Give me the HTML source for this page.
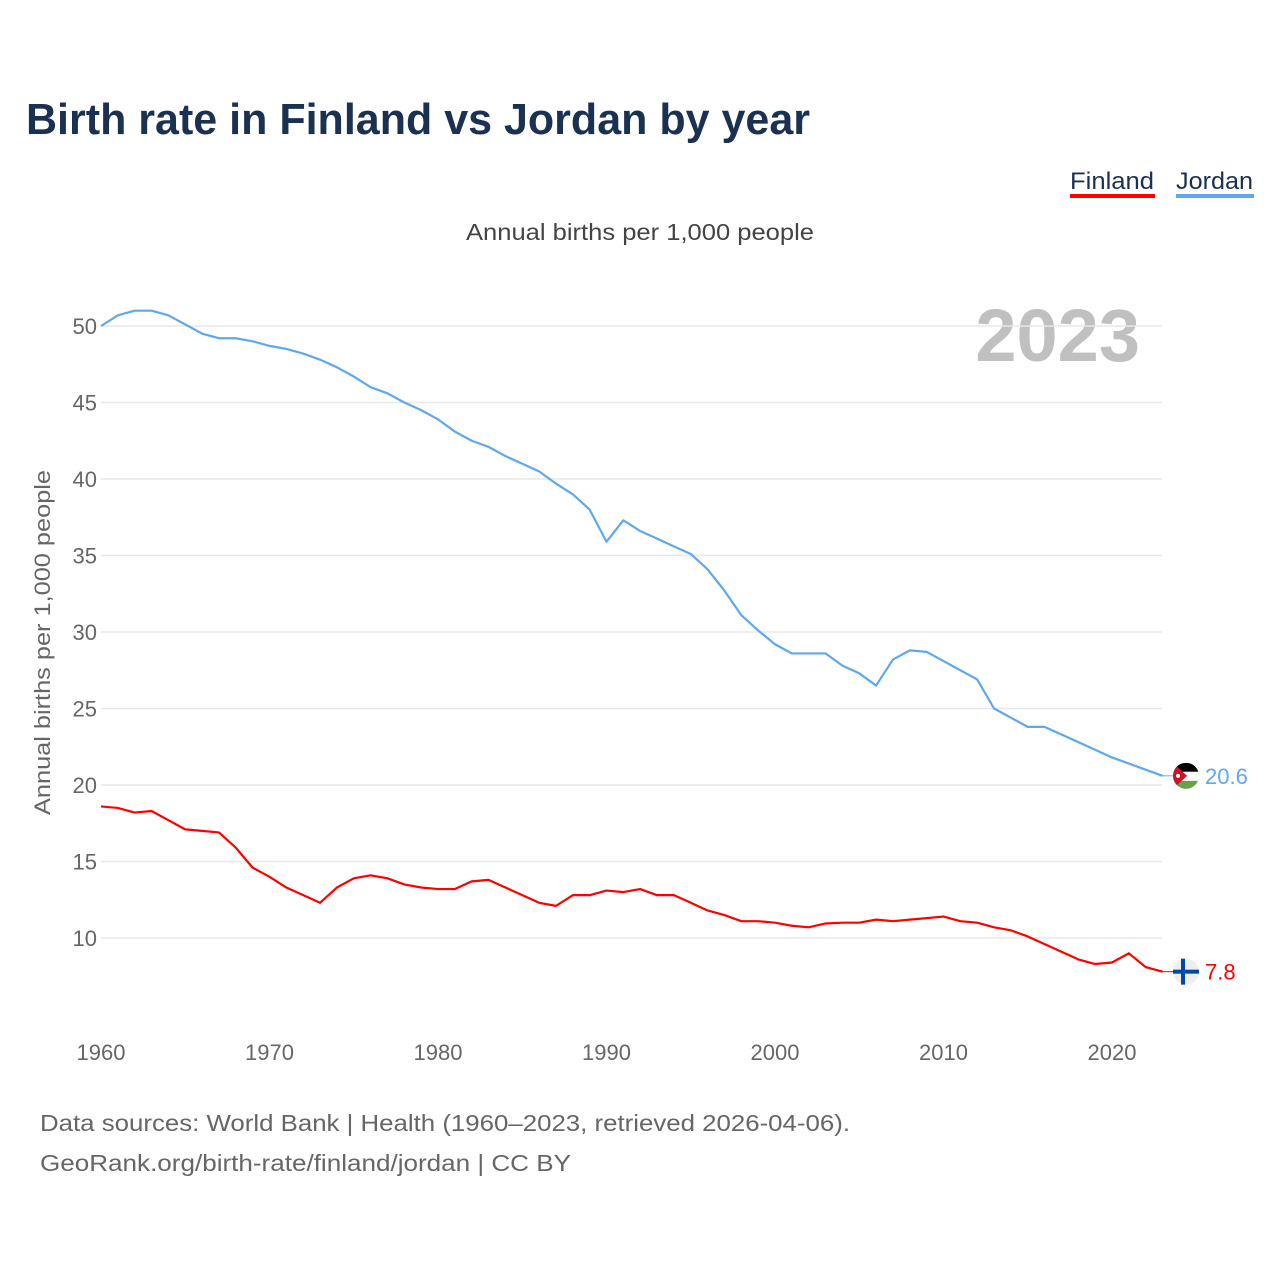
<!DOCTYPE html>
<html><head><meta charset="utf-8"><style>
body{margin:0;background:#fff;font-family:"Liberation Sans",sans-serif}
svg{display:block}
</style></head><body>
<svg id="c" width="1280" height="1280" viewBox="0 0 1280 1280">
<text x="26" y="134" font-size="44" font-weight="bold" fill="#1b3152" textLength="784" lengthAdjust="spacingAndGlyphs">Birth rate in Finland vs Jordan by year</text>
<g><text x="1070" y="189" font-size="24" fill="#1b3152" textLength="84" lengthAdjust="spacingAndGlyphs">Finland</text><rect x="1070" y="194" width="85" height="4" fill="#ff0000"/></g>
<g><text x="1176" y="189" font-size="24" fill="#1b3152" textLength="77" lengthAdjust="spacingAndGlyphs">Jordan</text><rect x="1176" y="194" width="78" height="4" fill="#5fa8ee"/></g>
<text x="466" y="240" font-size="23" fill="#444" textLength="348" lengthAdjust="spacingAndGlyphs">Annual births per 1,000 people</text>
<text x="1140" y="361" text-anchor="end" font-size="74" font-weight="bold" fill="#c0c0c0">2023</text>
<text transform="translate(50,815) rotate(-90)" font-size="22" fill="#666" textLength="345" lengthAdjust="spacingAndGlyphs">Annual births per 1,000 people</text>
<g id="grid"></g><g id="lines"></g>
<text x="40" y="1131" font-size="23" fill="#666" textLength="810" lengthAdjust="spacingAndGlyphs">Data sources: World Bank | Health (1960–2023, retrieved 2026-04-06).</text>
<text x="40" y="1171" font-size="23" fill="#666" textLength="531" lengthAdjust="spacingAndGlyphs">GeoRank.org/birth-rate/finland/jordan | CC BY</text>
</svg>
<script>
const startYear = 1960;
const jordan = [50.0,50.7,51.0,51.0,50.7,50.1,49.5,49.2,49.2,49.0,48.7,48.5,48.2,47.8,47.3,46.7,46.0,45.6,45.0,44.5,43.9,43.1,42.5,42.1,41.5,41.0,40.5,39.7,39.0,38.0,35.9,37.3,36.6,36.1,35.6,35.1,34.1,32.7,31.1,30.1,29.2,28.6,28.6,28.6,27.8,27.3,26.5,28.2,28.8,28.7,28.1,27.5,26.9,25.0,24.4,23.8,23.8,23.3,22.8,22.3,21.8,21.4,21.0,20.6];
const finland = [18.6,18.5,18.2,18.3,17.7,17.1,17.0,16.9,15.9,14.6,14.0,13.3,12.8,12.3,13.3,13.9,14.1,13.9,13.5,13.3,13.2,13.2,13.7,13.8,13.3,12.8,12.3,12.1,12.8,12.8,13.1,13.0,13.2,12.8,12.8,12.3,11.8,11.5,11.1,11.1,11.0,10.8,10.7,10.95,11.0,11.0,11.2,11.1,11.2,11.3,11.4,11.1,11.0,10.7,10.5,10.1,9.6,9.1,8.6,8.3,8.4,9.0,8.1,7.8];
const yTicks = [10,15,20,25,30,35,40,45,50];
const xTicks = [1960,1970,1980,1990,2000,2010,2020];
const NS="http://www.w3.org/2000/svg";
const X=y=>101+(y-1960)*16.85, Y=v=>938-(v-10)*15.3;
const grid=document.getElementById('grid'), lines=document.getElementById('lines');
function mk(t,a,p){const e=document.createElementNS(NS,t);for(const k in a)e.setAttribute(k,a[k]);p.appendChild(e);return e;}
yTicks.forEach(v=>{
 const l=mk('line',{x1:101,x2:1162,y1:Y(v),y2:Y(v),stroke:'#e8e8e8','stroke-width':1.5},grid);
 
 
 const t=mk('text',{x:97,y:Y(v)+8,'text-anchor':'end','font-size':22,fill:'#666'},grid);t.textContent=v;
 
 
});
xTicks.forEach(v=>{
 const t=mk('text',{x:X(v),y:1060,'text-anchor':'middle','font-size':22,fill:'#666'},grid);t.textContent=v;
 
 
});
function series(d,col,name){
 const pts=d.map((v,i)=>X(startYear+i)+','+Y(v)).join(' ');
 const p=mk('polyline',{points:pts,fill:'none',stroke:col,'stroke-width':2.2,'stroke-linejoin':'round'},lines);
 
 
 const last=d[d.length-1], ly=Y(last);
 mk('line',{x1:X(startYear+d.length-1),x2:1175,y1:ly,y2:ly,stroke:col,'stroke-width':1},lines);
 const t=mk('text',{x:1205,y:ly+8,'font-size':22,fill:col},lines);t.textContent=last.toFixed(1);
 
 
 return ly;
}
const jy=series(jordan,'#5fa8ee','jordan');
const fy=series(finland,'#ff0000','finland');
const jf=mk('g',{},lines);


mk('clipPath',{id:'cj'},jf).appendChild(document.createElementNS(NS,'circle')).setAttribute('r',13);
document.querySelector('#cj circle').setAttribute('cx',1186);document.querySelector('#cj circle').setAttribute('cy',jy);
const jg=mk('g',{'clip-path':'url(#cj)'},jf);
mk('rect',{x:1173,y:jy-13,width:26,height:9,fill:'#000'},jg);
mk('rect',{x:1173,y:jy-4,width:26,height:9,fill:'#fff'},jg);
mk('rect',{x:1173,y:jy+5,width:26,height:9,fill:'#6aa14a'},jg);
mk('polygon',{points:`1173,${jy-13} 1187,${jy} 1173,${jy+13}`,fill:'#ce1126'},jg);
mk('circle',{cx:1178,cy:jy,r:2,fill:'#fff'},jg);
const ff=mk('g',{},lines);


mk('circle',{cx:1186,cy:fy,r:13,fill:'#eee'},ff);
mk('rect',{x:1173,y:fy-2,width:26,height:4,fill:'#0047ab'},ff);
mk('rect',{x:1181,y:fy-13,width:4,height:26,fill:'#0047ab'},ff);
</script>
</body></html>
